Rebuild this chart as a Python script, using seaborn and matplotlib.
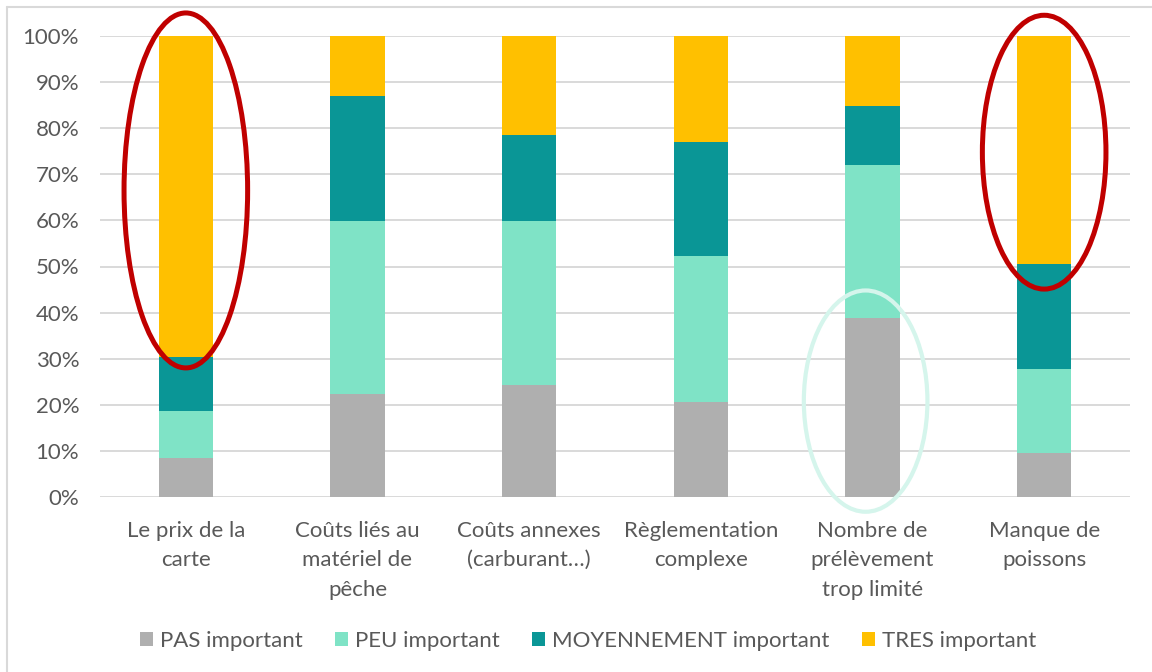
import numpy as np
import pandas as pd
import matplotlib.pyplot as plt
import seaborn as sns
from matplotlib.patches import Ellipse, Patch
from matplotlib.lines import Line2D

categories = ["Le prix de la\ncarte", "Coûts liés au\nmatériel de\npêche",
              "Coûts annexes\n(carburant…)", "Règlementation\ncomplexe",
              "Nombre de\nprélèvement\ntrop limité", "Manque de\npoissons"]
pas = [8.4, 22.4, 24.4, 20.7, 38.9, 9.5]
peu = [10.3, 37.5, 35.5, 31.6, 33.2, 18.3]
moy = [11.6, 27.1, 18.6, 24.7, 12.7, 22.8]
tres = [69.7, 13.0, 21.5, 23.0, 15.2, 49.4]
series = ["PAS important", "PEU important", "MOYENNEMENT important", "TRES important"]
colors = ["#AFAFAF", "#7FE3C6", "#0A9696", "#FFC000"]

sns.set_style("white")
plt.rcParams['font.family'] = ['Lato', 'DejaVu Sans']
txt = "#595959"
fs = 16

df = pd.DataFrame({"cat": categories, "PAS": pas, "PEU": peu, "MOY": moy, "TRES": tres})
cum = df[["PAS", "PEU", "MOY", "TRES"]].cumsum(axis=1)

fig = plt.figure(figsize=(11.52, 6.72), dpi=100)
ax = fig.add_axes([100/1152, 1-497/672, 1030/1152, 461/672])

# draw cumulative layers from the top down so each covers the previous
for col, c in zip(["TRES", "MOY", "PEU", "PAS"], colors[::-1]):
    sns.barplot(x=df["cat"], y=cum[col], color=c, width=0.315, ax=ax,
                saturation=1, edgecolor="none", linewidth=0, zorder=3)

ax.set_ylim(0, 100)
ax.set_xlim(-0.5, 5.5)
ax.set_yticks(np.arange(0, 101, 10))
ax.set_yticklabels([f"{v}%" for v in range(0, 101, 10)])
ax.yaxis.grid(True, color="#D9D9D9", linewidth=1.4, zorder=0)
ax.set_axisbelow(True)
for s in ax.spines.values():
    s.set_visible(False)
ax.tick_params(axis="both", length=0, colors=txt, labelsize=fs)
ax.tick_params(axis="x", pad=17)
ax.tick_params(axis="y", pad=15)
ax.set_xlabel("")
ax.set_ylabel("")
for lab in ax.get_xticklabels():
    lab.set_linespacing(1.6)

# highlight ellipses
ax.add_patch(Ellipse((0, 66.5), 0.72, 77, fill=False, edgecolor="#C00000", linewidth=3.6, zorder=5, clip_on=False))
ax.add_patch(Ellipse((5, 74.8), 0.72, 59.4, fill=False, edgecolor="#C00000", linewidth=3.6, zorder=5, clip_on=False))
ax.add_patch(Ellipse((3.96, 20.8), 0.72, 48, fill=False, edgecolor="#D5F5EC", linewidth=3.0, zorder=5, clip_on=False))

handles = [Patch(facecolor=c, edgecolor="none") for c in colors]
fig.legend(handles, series, loc="center", bbox_to_anchor=(588/1152, 1-641/672), ncol=4,
           frameon=False, fontsize=fs, labelcolor=txt, handlelength=0.6, handleheight=0.6,
           handletextpad=0.3, columnspacing=1.45)

# chart area border
fig.add_artist(Line2D([7/1152, 1], [1-7/672, 1-7/672], color="#D9D9D9", linewidth=1.5))
fig.add_artist(Line2D([7/1152, 7/1152], [0, 1-7/672], color="#D9D9D9", linewidth=1.5))

fig.savefig("out.png", dpi=100)
